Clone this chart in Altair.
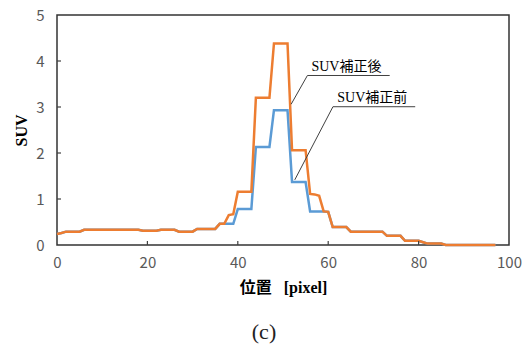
import altair as alt
import pandas as pd

# ---- data ----
position = list(range(98))
suv_after = [0.24, 0.26, 0.29, 0.29, 0.29, 0.29, 0.33, 0.33, 0.33, 0.33,
             0.33, 0.33, 0.33, 0.33, 0.33, 0.33, 0.33, 0.33, 0.33, 0.31,
             0.31, 0.31, 0.31, 0.33, 0.33, 0.33, 0.33, 0.29, 0.29, 0.29,
             0.29, 0.35, 0.35, 0.35, 0.35, 0.35, 0.46, 0.46, 0.65, 0.67,
             1.16, 1.16, 1.16, 1.16, 3.20, 3.20, 3.20, 3.20, 4.38, 4.38,
             4.38, 4.38, 2.06, 2.06, 2.06, 2.06, 1.11, 1.10, 1.07, 0.73,
             0.72, 0.39, 0.39, 0.39, 0.39, 0.29, 0.29, 0.29, 0.29, 0.29,
             0.29, 0.29, 0.29, 0.20, 0.20, 0.20, 0.20, 0.09, 0.09, 0.09,
             0.09, 0.06, 0.03, 0.03, 0.03, 0.03, 0.00, 0.00, 0.00, 0.00,
             0.00, 0.00, 0.00, 0.00, 0.00, 0.00, 0.00, 0.00]
suv_before = [0.24, 0.26, 0.29, 0.29, 0.29, 0.29, 0.33, 0.33, 0.33, 0.33,
              0.33, 0.33, 0.33, 0.33, 0.33, 0.33, 0.33, 0.33, 0.33, 0.31,
              0.31, 0.31, 0.31, 0.33, 0.33, 0.33, 0.33, 0.29, 0.29, 0.29,
              0.29, 0.35, 0.35, 0.35, 0.35, 0.35, 0.46, 0.46, 0.46, 0.46,
              0.78, 0.78, 0.78, 0.78, 2.13, 2.13, 2.13, 2.13, 2.93, 2.93,
              2.93, 2.93, 1.37, 1.37, 1.37, 1.37, 0.73, 0.73, 0.73, 0.73,
              0.72, 0.39, 0.39, 0.39, 0.39, 0.29, 0.29, 0.29, 0.29, 0.29,
              0.29, 0.29, 0.29, 0.20, 0.20, 0.20, 0.20, 0.09, 0.09, 0.09,
              0.09, 0.06, 0.03, 0.03, 0.03, 0.03, 0.00, 0.00, 0.00, 0.00,
              0.00, 0.00, 0.00, 0.00, 0.00, 0.00, 0.00, 0.00]

x_ticks = [0, 20, 40, 60, 80, 100]
y_ticks = [0, 1, 2, 3, 4, 5]
inner_x_ticks = [20, 40, 60, 80]
inner_y_ticks = [1, 2, 3, 4]

label_text = ["SUV補正後", "SUV補正前"]
label_x = [56.3, 62.0]
label_y = [3.87, 3.20]
underline_x = [55.4, 61.05]
underline_x2 = [73.6, 79.25]
underline_y = [3.685, 3.006]
leader_x = [51.8, 52.6]
leader_y = [3.06, 1.416]

x_title = "位置\u00a0\u00a0\u00a0[pixel]"
y_title = "SUV"
caption = "(c)"

ORANGE = "#ED7D31"
BLUE = "#5B9BD5"
SERIF = "Liberation Serif, DejaVu Serif, Noto Sans CJK JP"
SANS = "Noto Sans CJK JP, Noto Sans, sans-serif"

df = pd.DataFrame({"pos": position, "after": suv_after, "before": suv_before})
ann = pd.DataFrame({"text": label_text, "lx": label_x, "ly": label_y,
                    "ux": underline_x, "ux2": underline_x2, "uy": underline_y,
                    "ex": leader_x, "ey": leader_y})
xt = pd.DataFrame({"t": inner_x_ticks})
yt = pd.DataFrame({"t": inner_y_ticks})

W, H = 452, 230

xscale = alt.Scale(domain=[0, 100], nice=False)
yscale = alt.Scale(domain=[0, 5], nice=False)

xaxis = alt.Axis(values=x_ticks, title=x_title, grid=False, ticks=False, domain=False,
                 labelFont=SANS, labelFontSize=15, labelColor="#595959", labelPadding=10,
                 titleFont=SERIF, titleFontSize=16, titleFontWeight="bold", titleColor="#000000",
                 titlePadding=9, labelFlush=False)
yaxis = alt.Axis(values=y_ticks, title=y_title, grid=False, ticks=False, domain=False,
                 labelFont=SANS, labelFontSize=15, labelColor="#595959", labelPadding=13,
                 titleFont=SERIF, titleFontSize=16, titleFontWeight="bold", titleColor="#000000",
                 titlePadding=6, labelFlush=False)

base = alt.Chart(df)
blue_line = base.mark_line(color=BLUE, strokeWidth=2.5).encode(
    x=alt.X("pos:Q", scale=xscale, axis=xaxis),
    y=alt.Y("before:Q", scale=yscale, axis=yaxis),
)
orange_line = base.mark_line(color=ORANGE, strokeWidth=2.5).encode(
    x=alt.X("pos:Q", scale=xscale),
    y=alt.Y("after:Q", scale=yscale),
)

xtick_marks = alt.Chart(xt).mark_rule(color="#404040", strokeWidth=1.2).encode(
    x=alt.X("t:Q", scale=xscale), y=alt.value(H), y2=alt.value(H - 4))
ytick_marks = alt.Chart(yt).mark_rule(color="#404040", strokeWidth=1.2).encode(
    y=alt.Y("t:Q", scale=yscale), x=alt.value(0), x2=alt.value(4))

annb = alt.Chart(ann)
underlines = annb.mark_rule(color="#404040", strokeWidth=1).encode(
    x=alt.X("ux:Q", scale=xscale), x2="ux2:Q", y=alt.Y("uy:Q", scale=yscale))
leaders = annb.mark_rule(color="#404040", strokeWidth=1).encode(
    x=alt.X("ux:Q", scale=xscale), x2="ex:Q",
    y=alt.Y("uy:Q", scale=yscale), y2="ey:Q")
labels = annb.mark_text(align="left", baseline="middle", font=SERIF, fontSize=14,
                        color="#000000").encode(
    x=alt.X("lx:Q", scale=xscale), y=alt.Y("ly:Q", scale=yscale), text="text:N")

cap = alt.Chart(pd.DataFrame({"c": [caption]})).mark_text(
    font=SERIF, fontSize=22, fontWeight="normal", color="#222222",
    align="center", baseline="middle").encode(
    x=alt.value(207), y=alt.value(317), text="c:N")

chart = alt.layer(blue_line, orange_line, xtick_marks, ytick_marks,
                  underlines, leaders, labels, cap).properties(
    width=W, height=H,
    autosize=alt.AutoSizeParams(type="none"),
    padding={"left": 57, "top": 15, "right": 23, "bottom": 99},
    background="white",
).configure_view(stroke="#333333", strokeWidth=1.5)

chart.save("out.html", embed_options={"renderer": "svg", "actions": False})
